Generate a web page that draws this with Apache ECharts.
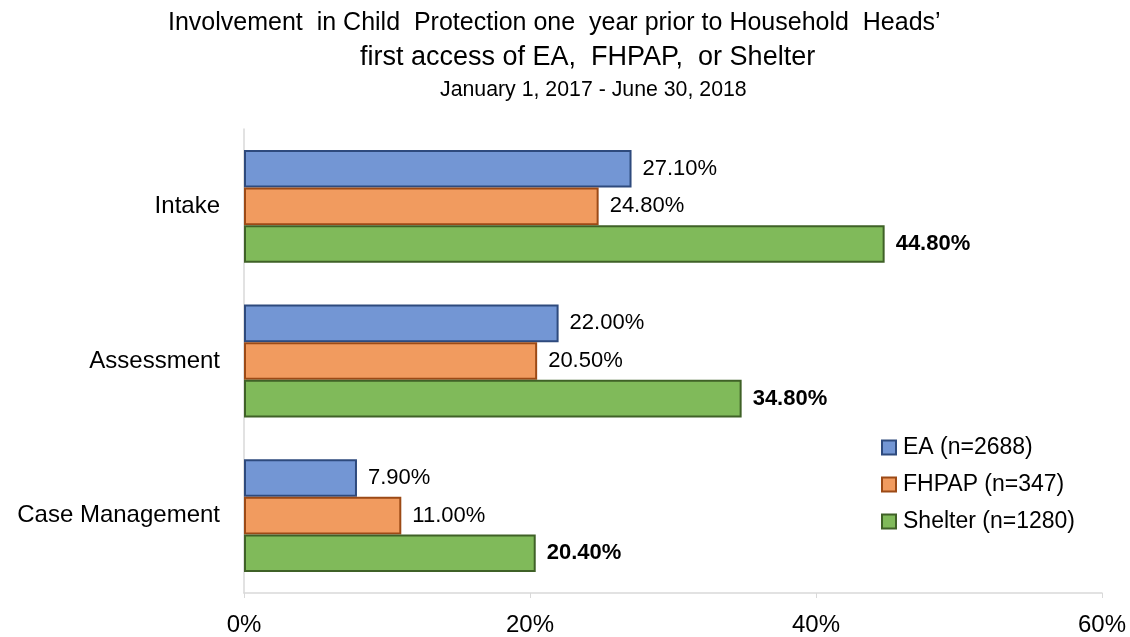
<!DOCTYPE html>
<html>
<head>
<meta charset="utf-8">
<script src="https://cdn.jsdelivr.net/npm/echarts@6/dist/echarts.min.js"></script>
<style>
html,body{margin:0;padding:0;background:#fff;}
#chart{width:1130px;height:637px;}
</style>
</head>
<body>
<div id="chart"></div>
<script>
const categories = ['Intake', 'Assessment', 'Case Management'];
const seriesNames = ['EA (n=2688)', 'FHPAP (n=347)', 'Shelter (n=1280)'];
const eaValues = [27.1, 22.0, 7.9];
const fhpapValues = [24.8, 20.5, 11.0];
const shelterValues = [44.8, 34.8, 20.4];
const xTicks = [0, 20, 40, 60];

const fills = ['#7396D4', '#F19B5F', '#80BA5A'];
const borders = ['#2E4A7D', '#9C4A16', '#3F6127'];
const valuesList = [eaValues, fhpapValues, shelterValues];
const FONT = '"Liberation Sans", Arial, sans-serif';

const series = valuesList.map((vals, i) => ({
  name: seriesNames[i],
  type: 'bar',
  data: vals,
  barGap: '0%',
  barCategoryGap: '27%',
  itemStyle: { color: fills[i], borderColor: borders[i], borderWidth: 2 },
  label: {
    show: true,
    position: 'right',
    distance: 11,
    fontFamily: FONT,
    fontSize: 22,
    color: '#000',
    fontWeight: i === 2 ? 'bold' : 'normal',
    formatter: p => p.value.toFixed(2) + '%'
  },
  emphasis: { disabled: true }
}));

const chart = echarts.init(document.getElementById('chart'), null, { renderer: 'canvas' });
chart.setOption({
  animation: false,
  backgroundColor: '#fff',
  textStyle: { fontFamily: FONT },
  title: [
    {
      text: 'Involvement  in Child  Protection one  year prior to Household  Heads’',
      left: 168, top: 11, padding: 0, textAlign: 'left',
      textStyle: { fontFamily: FONT, fontSize: 25, fontWeight: 'normal', color: '#000' }
    },
    {
      text: 'first access of EA,  FHPAP,  or Shelter',
      left: 360, top: 44, padding: 0, textAlign: 'left',
      textStyle: { fontFamily: FONT, fontSize: 27, fontWeight: 'normal', color: '#000' }
    },
    {
      text: 'January 1, 2017 - June 30, 2018',
      left: 440, top: 80, padding: 0, textAlign: 'left',
      textStyle: { fontFamily: FONT, fontSize: 21.3, fontWeight: 'normal', color: '#000' }
    }
  ],
  legend: {
    orient: 'vertical',
    left: 881, top: 436,
    padding: 0,
    itemWidth: 14, itemHeight: 14,
    itemGap: 14,
    icon: 'rect',
    textStyle: { fontFamily: FONT, fontSize: 23, color: '#000', padding: [0, 0, 0, 2] },
    data: seriesNames
  },
  grid: { left: 244, right: 28, top: 129, bottom: 41, containLabel: false },
  xAxis: {
    type: 'value',
    min: xTicks[0], max: xTicks[xTicks.length - 1], interval: 20,
    axisLine: { show: true, lineStyle: { color: '#d9d9d9', width: 1.5 } },
    axisTick: { show: true, length: 5, lineStyle: { color: '#d9d9d9' } },
    splitLine: { show: false },
    axisLabel: { fontFamily: FONT, fontSize: 24, color: '#000', margin: 20, formatter: '{value}%' }
  },
  yAxis: {
    type: 'category',
    inverse: true,
    data: categories,
    axisLine: { show: true, lineStyle: { color: '#d9d9d9', width: 1.5 } },
    axisTick: { show: false },
    axisLabel: { fontFamily: FONT, fontSize: 24, color: '#000', margin: 24 }
  },
  series: series
});
</script>
</body>
</html>
